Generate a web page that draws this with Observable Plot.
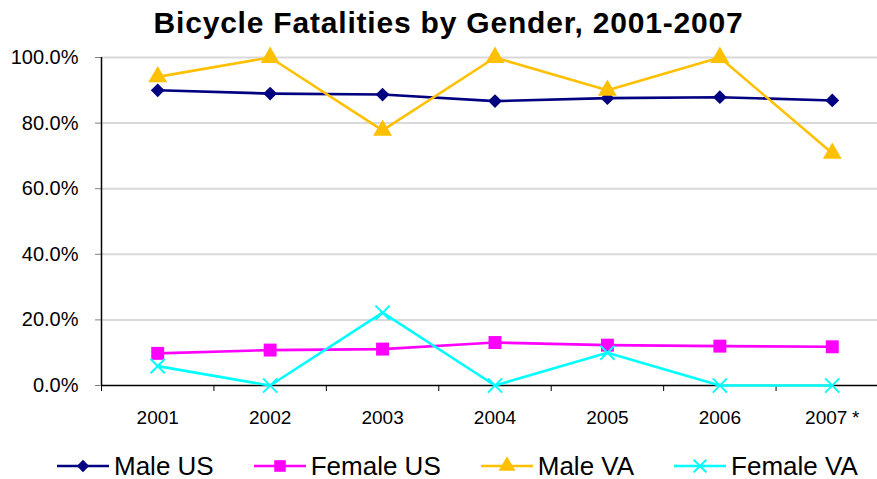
<!DOCTYPE html>
<html>
<head>
<meta charset="utf-8">
<script src="https://cdn.jsdelivr.net/npm/d3@7"></script>
<script src="https://cdn.jsdelivr.net/npm/@observablehq/plot@0.6"></script>
<style>
  html, body { margin: 0; padding: 0; overflow: hidden; background: #fff; }
  body { width: 877px; height: 479px; font-family: "Liberation Sans", Arial, sans-serif; }
  #title { height: 44px; line-height: 46px; text-align: center; padding-left: 20px; box-sizing: border-box;
           font-weight: bold; font-size: 30px; letter-spacing: 0.8px; color: #000; white-space: nowrap; }
  #legend { height: 44px; display: flex; align-items: center; justify-content: flex-start; padding-left: 57px; box-sizing: border-box; }
  .item { display: flex; align-items: center; margin-right: 40px; font-size: 26px; color: #000; white-space: nowrap; }
  .item svg { margin-right: 5px; }
</style>
</head>
<body>
<div id="title">Bicycle Fatalities by Gender, 2001-2007</div>
<div id="chart"></div>
<div id="legend"></div>
<script>
const years = [2001, 2002, 2003, 2004, 2005, 2006, 2007];
const yearLabels = ["2001", "2002", "2003", "2004", "2005", "2006", "2007\u2005*"];
const seriesNames = ["Male US", "Female US", "Male VA", "Female VA"];
const maleUS   = [90.0, 89.0, 88.7, 86.7, 87.6, 87.9, 86.9];
const femaleUS = [9.8, 10.8, 11.1, 13.1, 12.3, 12.0, 11.8];
const maleVA   = [94.1, 100, 77.8, 100, 90.0, 100, 70.8];
const femaleVA = [5.9, 0, 22.2, 0, 10.0, 0, 0];
const yTicks = [0, 20, 40, 60, 80, 100];

const seriesValues = [maleUS, femaleUS, maleVA, femaleVA];
const colors = ["#000080", "#FF00FF", "#FFC000", "#00FFFF"];
const symbols = ["diamond2", "square", "triangle", "times"];
const radii = [6.2, 7.3, 7.0, 6.5];

const tables = seriesNames.map((name, i) =>
  years.map((year, j) => ({ series: name, year, value: seriesValues[i][j] })));

const boundaries = d3.range(years.length + 1).map(i => years[0] - 0.5 + i);

const marks = [
  Plot.ruleY(yTicks.filter(d => d > 0), { stroke: "#d9d9d9", strokeWidth: 2 }),
  Plot.axisY({ ticks: yTicks, tickFormat: d => d.toFixed(1) + "%", tickSize: 6, tickPadding: 17,
               fontSize: 20, stroke: "#808080", label: null }),
  Plot.axisX({ ticks: boundaries, tickFormat: () => "", tickSize: 6, stroke: "#000", label: null }),
  Plot.axisX({ ticks: years, tickFormat: d => yearLabels[years.indexOf(d)], tickSize: 0, tickPadding: 25,
               fontSize: 19, label: null }),
  Plot.ruleX([boundaries[0]], { y1: 0, y2: 100, stroke: "#000", strokeWidth: 1.5 }),
  Plot.ruleY([0], { stroke: "#000", strokeWidth: 1.5 })
];
tables.forEach((t, i) => {
  marks.push(Plot.line(t, { x: "year", y: "value", stroke: colors[i], strokeWidth: 2.6 }));
  const isStroke = symbols[i] === "times";
  marks.push(Plot.dot(t, { x: "year", y: "value", symbol: () => symbols[i], r: radii[i],
    fill: isStroke ? "none" : colors[i], stroke: colors[i], strokeWidth: isStroke ? 2 : 0 }));
});

const chart = Plot.plot({
  width: 877,
  height: 400,
  marginLeft: 101,
  marginRight: 0,
  marginTop: 13,
  marginBottom: 59,
  style: { fontFamily: "'Liberation Sans', Arial, sans-serif", color: "#000", background: "#fff", overflow: "hidden" },
  x: { type: "linear", domain: [boundaries[0], boundaries[boundaries.length - 1]], range: [101, 888], axis: null },
  y: { domain: [0, 100], axis: null },
  symbol: { type: "identity" },
  marks
});
document.getElementById("chart").appendChild(chart);

// Legend
const legend = d3.select("#legend");
seriesNames.forEach((name, i) => {
  const item = legend.append("div").attr("class", "item");
  const svg = item.append("svg").attr("width", 52).attr("height", 22);
  svg.append("line").attr("x1", 0).attr("x2", 52).attr("y1", 11).attr("y2", 11)
    .attr("stroke", colors[i]).attr("stroke-width", 2.5);
  const symType = { diamond2: d3.symbolDiamond2, square: d3.symbolSquare, triangle: d3.symbolTriangle, times: d3.symbolTimes }[symbols[i]];
  const isStroke = symbols[i] === "times";
  svg.append("path").attr("transform", "translate(26,11)")
    .attr("d", d3.symbol(symType, Math.PI * radii[i] * radii[i] * 0.8)())
    .attr("fill", isStroke ? "none" : colors[i]).attr("stroke", colors[i]).attr("stroke-width", isStroke ? 2 : 0);
  item.append("span").text(name);
});
</script>
</body>
</html>
